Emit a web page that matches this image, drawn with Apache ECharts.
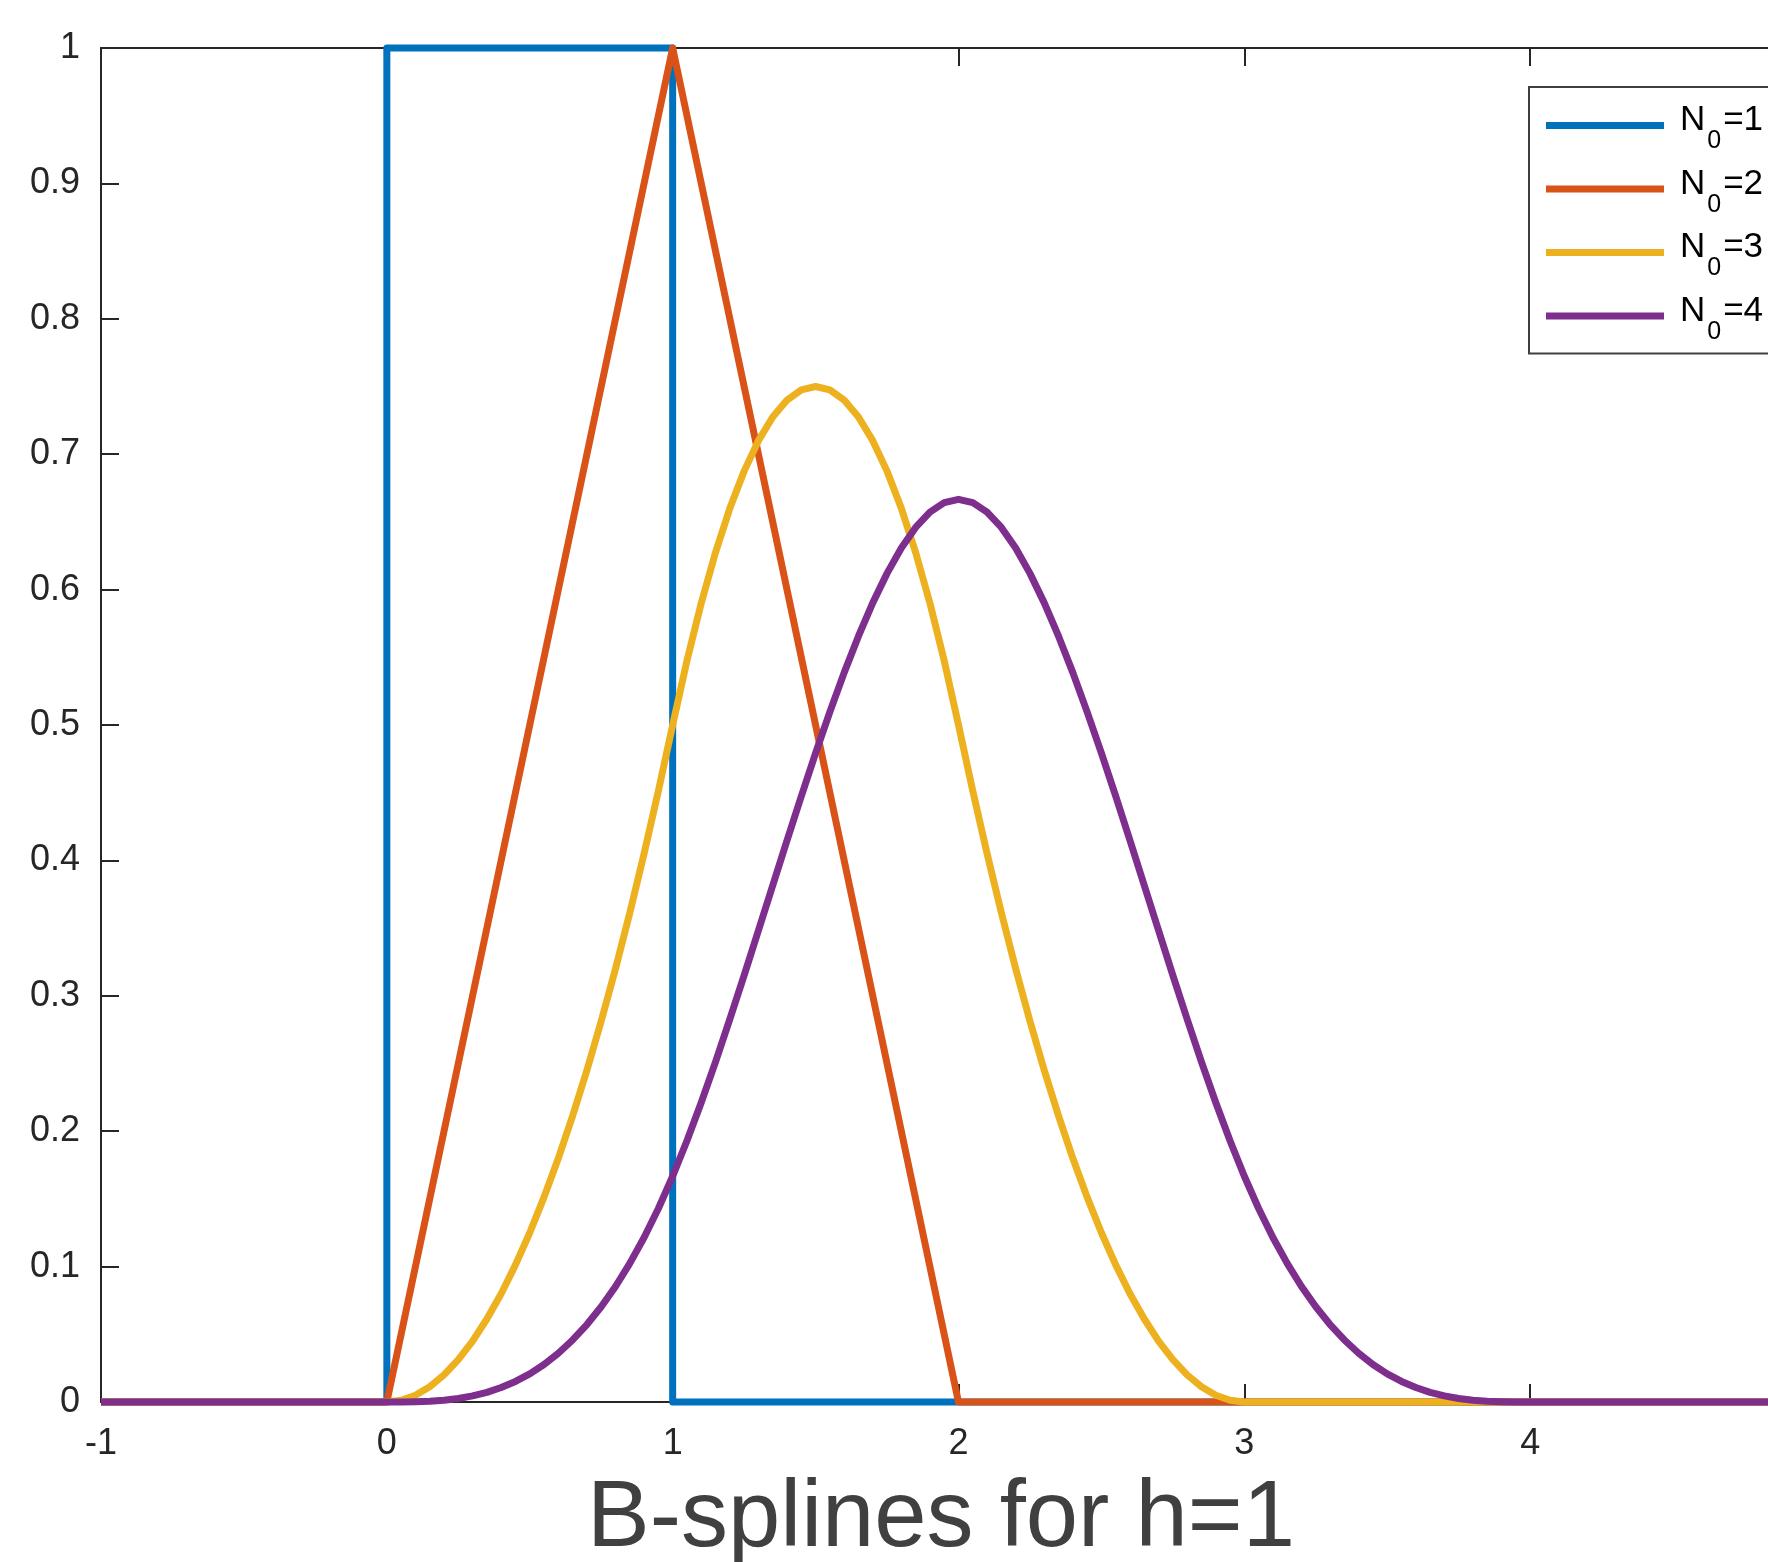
<!DOCTYPE html>
<html>
<head>
<meta charset="utf-8">
<script src="https://cdn.jsdelivr.net/npm/echarts@6/dist/echarts.min.js"></script>
<style>
html,body{margin:0;padding:0;background:#fff;}
#chart{width:1768px;height:1562px;}
</style>
</head>
<body>
<div id="chart"></div>
<script>
// ---- data ----
const seriesNames = ['N0=1', 'N0=2', 'N0=3', 'N0=4'];
// N0=1 : box spline (step function corners)
const n1X = [-1, 0, 0, 1, 1, 5];
const n1Y = [0, 0, 1, 1, 0, 0];
// N0=2 : hat function corners
const n2X = [-1, 0, 1, 2, 5];
const n2Y = [0, 0, 1, 0, 0];
// sample positions for the smooth curves
const sX = [0,0.05,0.1,0.15,0.2,0.25,0.3,0.35,0.4,0.45,0.5,0.55,0.6,0.65,0.7,0.75,0.8,0.85,0.9,0.95,
            1,1.05,1.1,1.15,1.2,1.25,1.3,1.35,1.4,1.45,1.5,1.55,1.6,1.65,1.7,1.75,1.8,1.85,1.9,1.95,
            2,2.05,2.1,2.15,2.2,2.25,2.3,2.35,2.4,2.45,2.5,2.55,2.6,2.65,2.7,2.75,2.8,2.85,2.9,2.95,
            3,3.05,3.1,3.15,3.2,3.25,3.3,3.35,3.4,3.45,3.5,3.55,3.6,3.65,3.7,3.75,3.8,3.85,3.9,3.95,4];
// N0=3 : quadratic B-spline values read at sX
const n3Y = [0,0.0013,0.005,0.0113,0.02,0.0313,0.045,0.0613,0.08,0.1013,0.125,0.1513,0.18,0.2113,0.245,0.2813,0.32,0.3613,0.405,0.4513,
             0.5,0.5475,0.59,0.6275,0.66,0.6875,0.71,0.7275,0.74,0.7475,0.75,0.7475,0.74,0.7275,0.71,0.6875,0.66,0.6275,0.59,0.5475,
             0.5,0.4513,0.405,0.3613,0.32,0.2813,0.245,0.2113,0.18,0.1513,0.125,0.1013,0.08,0.0613,0.045,0.0313,0.02,0.0113,0.005,0.0013,
             0,0,0,0,0,0,0,0,0,0,0,0,0,0,0,0,0,0,0,0,0];
// N0=4 : cubic B-spline values read at sX
const n4Y = [0,0,0.0002,0.0006,0.0013,0.0026,0.0045,0.0071,0.0107,0.0152,0.0208,0.0277,0.036,0.0458,0.0572,0.0703,0.0853,0.1024,0.1215,0.1429,
             0.1667,0.1929,0.2212,0.2512,0.2827,0.3151,0.3482,0.3815,0.4147,0.4474,0.4792,0.5097,0.5387,0.5656,0.5902,0.612,0.6307,0.6459,0.6572,0.6642,
             0.6667,0.6642,0.6572,0.6459,0.6307,0.612,0.5902,0.5656,0.5387,0.5097,0.4792,0.4474,0.4147,0.3815,0.3482,0.3151,0.2827,0.2512,0.2212,0.1929,
             0.1667,0.1429,0.1215,0.1024,0.0853,0.0703,0.0572,0.0458,0.036,0.0277,0.0208,0.0152,0.0107,0.0071,0.0045,0.0026,0.0013,0.0006,0.0002,0,0];
const xTicks = [-1, 0, 1, 2, 3, 4, 5];
const yTicks = [0, 0.1, 0.2, 0.3, 0.4, 0.5, 0.6, 0.7, 0.8, 0.9, 1];
const xLabelText = 'B-splines for h=1';

// ---- build ----
const colors = ['#0072BD', '#D95319', '#EDB120', '#7E2F8E'];
const FONT = '"Liberation Sans", Arial, Helvetica, sans-serif';
function pairs(xs, ys) { return xs.map((x, i) => [x, ys[i]]); }
const dataSets = [
  pairs(n1X, n1Y),
  pairs(n2X, n2Y),
  [[-1, 0]].concat(pairs(sX, n3Y), [[5, 0]]),
  [[-1, 0]].concat(pairs(sX, n4Y), [[5, 0]])
];

const axisLineStyle = { color: '#262626', width: 2 };
const chart = echarts.init(document.getElementById('chart'), null, { renderer: 'canvas' });
chart.setOption({
  backgroundColor: '#ffffff',
  animation: false,
  title: {
    text: xLabelText,
    left: 936,
    top: 1468,
    textAlign: 'center',
    textStyle: { fontSize: 94, fontWeight: 'normal', color: '#404040', fontFamily: FONT }
  },
  legend: {
    orient: 'vertical',
    left: 1529,
    top: 87,
    padding: [10, 30, 9, 17],
    itemGap: 6.5,
    itemWidth: 118,
    itemHeight: 7,
    icon: 'rect',
    borderColor: '#404040',
    borderWidth: 2,
    backgroundColor: '#ffffff',
    data: seriesNames,
    formatter: function (name) {
      return '{a|N}{s|0}{n|=' + name.slice(3) + '}';
    },
    textStyle: {
      fontFamily: FONT,
      color: '#000',
      rich: {
        a: { fontSize: 35, fontFamily: FONT, color: '#000', lineHeight: 36, padding: [0, 0, 10, 11] },
        n: { fontSize: 35, fontFamily: FONT, color: '#000', lineHeight: 36, padding: [0, 0, 10, 1] },
        s: { fontSize: 25, fontFamily: FONT, color: '#000', lineHeight: 26, padding: [32, 1, 0, 2] }
      }
    }
  },
  grid: {
    left: 101, top: 48, right: -48, bottom: 160,
    containLabel: false,
    outerBoundsMode: 'none',
    show: false
  },
  xAxis: [
    {
      type: 'value', min: -1, max: 5, interval: 1, position: 'bottom',
      axisLine: { show: true, onZero: false, lineStyle: axisLineStyle },
      axisTick: { show: true, inside: true, length: 18, lineStyle: axisLineStyle },
      axisLabel: { show: true, margin: 24, fontSize: 36, color: '#262626', fontFamily: FONT,
        formatter: v => xTicks.indexOf(v) >= 0 ? String(v) : '' },
      splitLine: { show: false }
    },
    {
      type: 'value', min: -1, max: 5, interval: 1, position: 'top',
      axisLine: { show: true, onZero: false, lineStyle: axisLineStyle },
      axisTick: { show: true, inside: true, length: 18, lineStyle: axisLineStyle },
      axisLabel: { show: false },
      splitLine: { show: false }
    }
  ],
  yAxis: [
    {
      type: 'value', min: 0, max: 1, interval: 0.1, position: 'left',
      axisLine: { show: true, onZero: false, lineStyle: axisLineStyle },
      axisTick: { show: true, inside: true, length: 18, lineStyle: axisLineStyle },
      axisLabel: { show: true, margin: 21, fontSize: 36, color: '#262626', fontFamily: FONT,
        formatter: v => { const r = Math.round(v * 10) / 10; return yTicks.indexOf(r) >= 0 ? String(r) : ''; } },
      splitLine: { show: false }
    }
  ],
  series: dataSets.map((d, i) => ({
    name: seriesNames[i],
    type: 'line',
    xAxisIndex: 0,
    yAxisIndex: 0,
    data: d,
    showSymbol: false,
    symbol: 'none',
    smooth: false,
    clip: false,
    color: colors[i],
    lineStyle: { color: colors[i], width: 7, join: 'round', cap: 'butt' },
    itemStyle: { color: colors[i] },
    z: 2 + i
  }))
});
</script>
</body>
</html>
